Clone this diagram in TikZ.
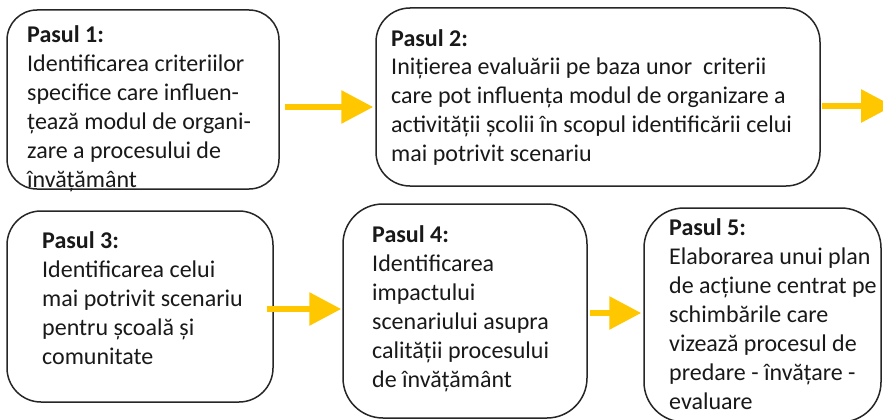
\documentclass[tikz,border=0pt]{standalone}
\usepackage{fontspec}
\setmainfont{Carlito}
\usetikzlibrary{arrows.meta, positioning, calc}
\definecolor{stepyellow}{RGB}{255,199,0}

\begin{document}
\begin{tikzpicture}[x=1pt, y=-1pt,
    stepbox/.style={draw=black!85, line width=1.5pt, inner sep=0pt},
    steptext/.style={anchor=north west, align=left, inner sep=0pt,
        font=\fontsize{24}{29}\selectfont, text=black!90},
    flow/.style={stepyellow, line width=6pt, -{Triangle[length=32pt,width=32pt]}}]
\useasboundingbox[fill=white] (0,0) rectangle (883,420);
% Steps, first row
\node[stepbox, rounded corners=30pt, minimum width=272pt, minimum height=179pt] (p1) at (143,99.5) {};
\node[stepbox, rounded corners=34pt, minimum width=444pt, minimum height=178pt] (p2) at (598,97) {};
% Steps, second row
\node[stepbox, rounded corners=34pt, minimum width=266pt, minimum height=191pt] (p3) at (140,306.5) {};
\node[stepbox, rounded corners=40pt, minimum width=244pt, minimum height=214pt] (p4) at (465,311) {};
\node[stepbox, rounded corners=40pt, minimum width=237pt, minimum height=214pt] (p5) at (762.5,315) {};
% Texts (top of the strut = first baseline - 0.7 baselineskip)
\node[steptext] (t1) at (27,21.7) {\strut\textbf{Pasul 1:}\\Identificarea criteriilor\\specifice care influen-\\țează modul de organi-\\zare a procesului de\\învățământ};
\node[steptext, font=\fontsize{24}{28.75}\selectfont] (t2) at (391,25.9) {\strut\textbf{Pasul 2:}\\Inițierea evaluării pe baza unor~ criterii\\care pot influența modul de organizare a\\activității școlii în scopul identificării celui\\mai potrivit scenariu};
\node[steptext] (t3) at (42,227.7) {\strut\textbf{Pasul 3:}\\Identificarea celui\\mai potrivit scenariu\\pentru școală și\\comunitate};
\node[steptext] (t4) at (372,221.7) {\strut\textbf{Pasul 4:}\\Identificarea\\impactului\\scenariului asupra\\calității procesului\\de învățământ};
\node[steptext] (t5) at (669,214.7) {\strut\textbf{Pasul 5:}\\Elaborarea unui plan\\de acțiune centrat pe\\schimbările care\\vizează procesul de\\predare - învățare -\\evaluare};
% Arrows
\coordinate (next) at (893,106);
\draw[flow] ($(p1.east)+(5,7.5)$) -- ($(p2.west)+(-2,10)$);
\draw[flow] ($(p2.east)+(1,9)$) -- (next);
\draw[flow] ($(p3.east)+(-7,2.5)$) -- ($(p4.west)+(-1,-2)$);
\draw[flow] ($(p4.east)+(2,2)$) -- ($(p5.west)+(-2,-2)$);
\end{tikzpicture}
\end{document}
